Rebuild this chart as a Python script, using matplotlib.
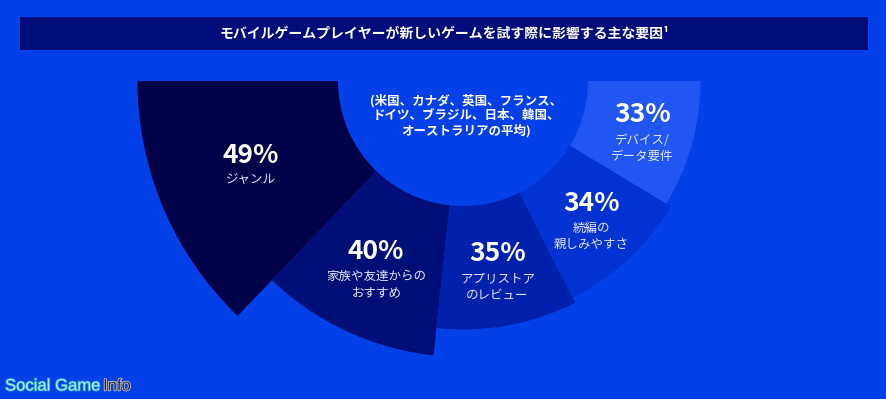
import numpy as np
import matplotlib
matplotlib.use("Agg")
import matplotlib.pyplot as plt
import matplotlib.patheffects as pe

plt.rcParams['font.family'] = ['Noto Sans CJK JP', 'DejaVu Sans']

# data
values = [49, 40, 35, 34, 33]
pct_labels = ["49%", "40%", "35%", "34%", "33%"]
sub_labels = ["ジャンル", "家族や友達からの\nおすすめ", "アプリストア\nのレビュー",
              "続編の\n親しみやすさ", "デバイス/\nデータ要件"]
colors = ["#000048", "#000e78", "#0021ac", "#0332d2", "#2256f2"]
title = "モバイルゲームプレイヤーが新しいゲームを試す際に影響する主な要因¹"
center_note = "(米国、カナダ、英国、フランス、\nドイツ、ブラジル、日本、韓国、\nオーストラリアの平均)"

bg = "#0440e8"
W, H = 886, 399
fig = plt.figure(figsize=(W / 100, H / 100), dpi=100, facecolor=bg)

# polar axes, radius measured in pixels
cx, cy = 463, 318      # centre, pixels from bottom-left
R = 340
ax = fig.add_axes([(cx - R) / W, (cy - R) / H, 2 * R / W, 2 * R / H],
                  projection="polar")
ax.set_theta_zero_location("W")
ax.set_theta_direction(1)
ax.set_ylim(0, R)
ax.axis("off")

inner = 125
vals = np.array(values, dtype=float)
widths = vals / vals.sum() * np.pi
starts = np.concatenate([[0], np.cumsum(widths)[:-1]])
outer = 56 + 5.5 * vals   # radius scale

ax.bar(starts, outer - inner, width=widths, bottom=inner, align="edge",
       color=colors, edgecolor="none", linewidth=0)

for th, w, ro, p, s in zip(starts, widths, outer, pct_labels, sub_labels):
    t = th + w / 2
    r = (inner + ro) / 2 + 5
    ax.annotate(p, (t, r), xytext=(0, 2), textcoords="offset points",
                ha="center", va="bottom", color="white",
                fontsize=19, fontweight="bold")
    ax.annotate(s, (t, r), xytext=(0, -2), textcoords="offset points",
                ha="center", va="top", color="#e4e8f8",
                fontsize=9, linespacing=1.3)

fig.text(466 / W, (H - 116) / H, center_note, ha="center", va="center",
         color="white", fontsize=9, fontweight="bold", linespacing=1.15)

# title bar
tax = fig.add_axes([20 / W, (H - 50) / H, 848 / W, 33 / H])
tax.set_facecolor("#000c7a")
tax.set_xticks([])
tax.set_yticks([])
for sp in tax.spines.values():
    sp.set_visible(False)
tax.text(0.5, 0.5, title, ha="center", va="center", color="white",
         fontsize=10, fontweight="bold", transform=tax.transAxes)

# watermark
t1 = fig.text(5 / W, (H - 386) / H, "Social Game", ha="left", va="center",
              color="#a6ecf4", fontsize=12, family="Liberation Sans")
t1.set_path_effects([pe.withStroke(linewidth=1.2, foreground="#2a9cc0")])
fig.text(103 / W, (H - 386) / H, "Info", ha="left", va="center",
         color="#2b2b2b", fontsize=12, family="Liberation Sans",
         path_effects=[pe.withStroke(linewidth=1.0, foreground="#dddddd")])

fig.savefig("out.png", dpi=100, facecolor=bg)
